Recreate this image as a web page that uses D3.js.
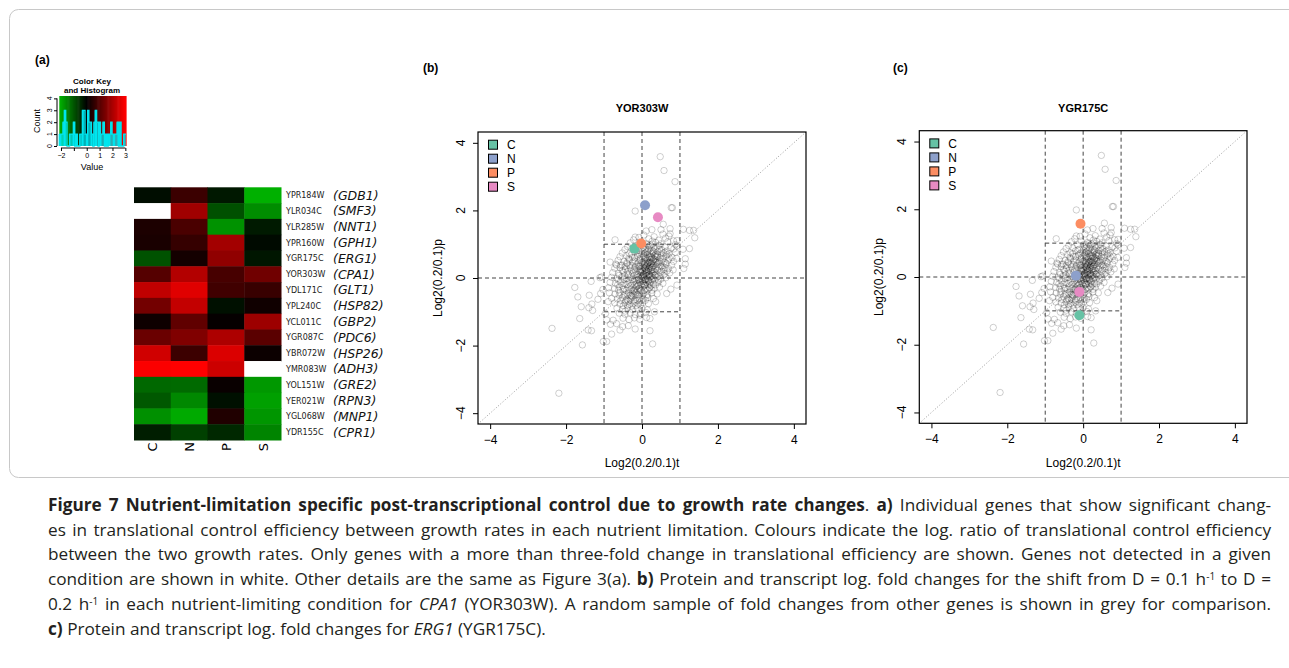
<!DOCTYPE html>
<html lang="en">
  <head>
    <meta charset="utf-8">
    <title>figure 7</title>
    <script src="https://cdn.jsdelivr.net/npm/d3@7"></script>
    <style type="text/css">
      body { margin: 0; background: #fff; }
      .rfont { font-family: "Liberation Sans", Arial, sans-serif; }
      .tick line { stroke: #000; }
      .tick text { font-family: "Liberation Sans", Arial, sans-serif; font-size: 12px; fill: #000; }
      .caption { font-family: "Open Sans", sans-serif; font-size: 17.2px; fill: #231f20; }
    </style>
  </head>
  <body>
    <svg id="fig" width="1289" height="668"></svg>
    <script type="text/javascript">
      // ---- panel (a) heatmap data ----
      var conditions = ["C", "N", "P", "S"];
      var condColors = ["#66C2A5", "#8DA0CB", "#FC8D62", "#E78AC3"];
      var geneIds = ["YPR184W", "YLR034C", "YLR285W", "YPR160W", "YGR175C", "YOR303W", "YDL171C", "YPL240C",
                     "YCL011C", "YGR087C", "YBR072W", "YMR083W", "YOL151W", "YER021W", "YGL068W", "YDR155C"];
      var geneNames = ["(GDB1)", "(SMF3)", "(NNT1)", "(GPH1)", "(ERG1)", "(CPA1)", "(GLT1)", "(HSP82)",
                       "(GBP2)", "(PDC6)", "(HSP26)", "(ADH3)", "(GRE2)", "(RPN3)", "(MNP1)", "(CPR1)"];
      // log ratio per condition C, N, P, S (null = not detected)
      var ratios = [
        [-0.15, 0.69, -0.28, -2.07],
        [null, 1.88, -0.94, -1.66],
        [0.33, 0.87, -1.72, -0.31],
        [0.29, 0.62, 1.92, -0.12],
        [-0.97, 0.23, 1.69, -0.26],
        [1.0, 2.1, 0.84, 1.32],
        [2.26, 2.64, 0.75, 0.66],
        [1.35, 2.3, -0.19, 0.19],
        [0.17, 1.13, 0.06, 1.85],
        [1.25, 1.5, 2.04, 1.06],
        [2.45, 0.71, 2.58, 0.14],
        [2.95, 3.0, 2.4, null],
        [-1.22, -1.25, 0.1, -1.79],
        [-1.04, -1.6, -0.19, -1.88],
        [-1.69, -2.0, 0.38, -1.76],
        [-0.35, -0.75, -0.47, -1.55]
      ];
      var keyTicks = [-2, -1, 0, 1, 2, 3];
      var countTicks = [0, 1, 2, 3, 4];

      // ---- panels (b), (c) ----
      var scatterTicks = [-4, -2, 0, 2, 4];
      // [t, p] for C, N, P, S
      var cpa1Points = [[-0.2, 0.87], [0.08, 2.15], [-0.02, 1.02], [0.42, 1.8]];
      var erg1Points = [[-0.1, -1.13], [-0.19, 0.04], [-0.07, 1.57], [-0.1, -0.44]];
      // background sample of other genes [t, p]
      var otherGenes = [
        [0.48,3.59],[0.58,3.18],[0.87,2.85],[-0.18,1.98],[0.77,2.08],[0.8,2.08],[0.56,1.59],[0.11,1.39],[0.26,1.43],
        [0.5,1.43],[0.74,1.46],[0.74,1.31],[1.09,1.44],[1.25,1.41],[1.36,1.41],[1.39,1.19],[1.25,0.87],[-0.71,1.13],
        [-0.18,1.21],[0.92,1.11],[1.08,0.85],[-0.84,0.47],[1.14,0.57],[1.14,0.41],[-0.67,0.38],[-0.56,0.38],
        [-1.77,-0.28],[-1.39,-0.51],[-1.69,-0.56],[-1.6,-0.85],[-1.64,-1.2],[-2.37,-1.49],[-1.4,-0.88],[-1.32,-0.77],
        [-1.3,-0.96],[-1.16,-0.63],[-1.09,-0.46],[-1.03,-0.34],[-0.89,-0.7],[-0.96,-1.05],[-0.93,-1.24],[-0.83,-1.37],
        [-1.42,-1.54],[-1.33,-1.56],[-1.57,-1.98],[-1.02,-1.88],[-0.93,-1.88],[-0.58,-1.54],[-0.18,-1.51],[0.28,-1.95],
        [-0.51,-1.44],[-0.67,-1.35],[-0.36,-1.41],[-0.05,-1.1],[0.21,-1.2],[0.21,-1.56],[-2.19,-3.41],[-1.34,-0.1],
        [-1.11,0.01],[-0.8,-1.66],[-0.76,-1.25],[0.36,-0.7],[0.65,-0.46],[0.76,-0.33],[0.92,-0.21],[0.12,-1.17],
        [0.33,-1.0],[-1.07,0.03],[1.1,0.28],
        [0.05,1.27],[0.32,1.22],[0.55,1.3],[0.71,1.24],[-0.08,1.2],
        [0.18,1.16],[0.44,1.12],[0.62,1.18],[0.83,1.1],[-0.22,1.13],[0.27,1.09],
        [-0.31,1.04],[-0.05,1.06],[0.12,1.02],[0.36,1.05],[0.5,1.01],[0.68,1.07],[0.88,0.99],[0.22,0.97],
        [-0.38,0.93],[-0.15,0.95],[0.03,0.91],[0.19,0.94],[0.31,0.9],[0.45,0.96],[0.6,0.92],[0.77,0.89],[0.92,0.95],[0.1,0.88],
        [-0.45,0.84],[-0.27,0.86],[-0.1,0.82],[0.07,0.85],[0.24,0.81],[0.35,0.87],[0.52,0.83],[0.66,0.8],[0.84,0.86],[0.15,0.79],[0.42,0.78],
        [-0.52,0.74],[-0.33,0.72],[-0.2,0.77],[-0.02,0.73],[0.11,0.76],[0.2,0.71],[0.29,0.75],[0.4,0.7],[0.56,0.74],[0.71,0.72],[0.88,0.76],[0.05,0.68],[0.33,0.66],
        [-0.58,0.63],[-0.41,0.66],[-0.25,0.61],[-0.12,0.65],[0.0,0.62],[0.09,0.6],[0.17,0.64],[0.26,0.59],[0.37,0.63],[0.48,0.6],[0.63,0.65],[0.79,0.61],[0.91,0.58],[0.22,0.55],
        [-0.63,0.52],[-0.47,0.49],[-0.34,0.54],[-0.18,0.5],[-0.06,0.53],[0.04,0.48],[0.13,0.51],[0.21,0.47],[0.3,0.52],[0.38,0.46],[0.46,0.5],[0.58,0.47],[0.69,0.53],[0.83,0.49],[0.16,0.43],[0.08,0.56],
        [-0.69,0.41],[-0.52,0.38],[-0.39,0.42],[-0.26,0.37],[-0.14,0.4],[-0.03,0.36],[0.06,0.41],[0.14,0.38],[0.23,0.42],[0.31,0.37],[0.41,0.4],[0.53,0.36],[0.64,0.41],[0.78,0.38],[0.1,0.33],[0.27,0.32],
        [-0.72,0.29],[-0.58,0.31],[-0.44,0.27],[-0.31,0.3],[-0.2,0.26],[-0.09,0.29],[0.0,0.25],[0.08,0.28],[0.17,0.24],[0.25,0.3],[0.35,0.26],[0.46,0.29],[0.57,0.25],[0.7,0.28],[0.82,0.24],[0.12,0.2],[-0.02,0.18],
        [-0.77,0.16],[-0.62,0.13],[-0.49,0.17],[-0.37,0.12],[-0.25,0.15],[-0.14,0.11],[-0.05,0.16],[0.04,0.12],[0.11,0.15],[0.19,0.1],[0.28,0.14],[0.37,0.11],[0.48,0.16],[0.6,0.12],[0.73,0.15],[0.15,0.07],[0.02,0.05],[0.24,0.04],
        [-0.8,0.02],[-0.66,-0.01],[-0.53,0.03],[-0.41,-0.02],[-0.3,0.01],[-0.19,-0.03],[-0.1,0.02],[-0.02,-0.01],[0.06,0.01],[0.13,-0.02],[0.2,0.03],[0.29,-0.01],[0.39,0.02],[0.5,-0.03],[0.63,0.01],[0.08,-0.06],[-0.06,-0.08],[0.18,-0.09],
        [-0.84,-0.13],[-0.7,-0.16],[-0.57,-0.12],[-0.45,-0.17],[-0.34,-0.14],[-0.23,-0.11],[-0.14,-0.16],[-0.05,-0.13],[0.03,-0.17],[0.11,-0.12],[0.19,-0.15],[0.3,-0.18],[0.42,-0.13],[0.55,-0.16],[-0.09,-0.21],[0.07,-0.23],
        [-0.88,-0.29],[-0.72,-0.31],[-0.6,-0.27],[-0.48,-0.32],[-0.37,-0.28],[-0.27,-0.33],[-0.17,-0.29],[-0.08,-0.31],[0.01,-0.27],[0.1,-0.32],[0.2,-0.28],[0.32,-0.3],[0.46,-0.27],[-0.22,-0.37],[-0.02,-0.38],
        [-0.86,-0.44],[-0.71,-0.47],[-0.58,-0.43],[-0.46,-0.48],[-0.35,-0.44],[-0.25,-0.46],[-0.15,-0.42],[-0.06,-0.47],[0.04,-0.45],[0.14,-0.49],[0.26,-0.44],[0.4,-0.47],[-0.3,-0.52],
        [-0.8,-0.6],[-0.65,-0.62],[-0.52,-0.58],[-0.4,-0.63],[-0.29,-0.59],[-0.18,-0.64],[-0.08,-0.6],[0.03,-0.62],[0.15,-0.58],[0.3,-0.61],[-0.36,-0.68],
        [-0.72,-0.74],[-0.58,-0.77],[-0.45,-0.73],[-0.33,-0.78],[-0.21,-0.74],[-0.1,-0.77],[0.02,-0.73],[0.17,-0.76],[-0.27,-0.83],
        [-0.66,-0.89],[-0.51,-0.92],[-0.38,-0.88],[-0.25,-0.93],[-0.12,-0.89],[0.0,-0.91],[0.14,-0.94],[-0.44,-0.98],
        [-0.6,-1.04],[-0.45,-1.07],[-0.31,-1.03],[-0.18,-1.08],[-0.04,-1.05],[0.1,-1.02],
        [-0.5,-1.19],[-0.34,-1.23],[-0.2,-1.18],[-0.06,-1.22],
        [0.05,0.1],[0.12,0.22],[0.2,0.35],[0.15,-0.05],[0.25,0.18],[0.08,0.3],[0.3,0.42],[0.1,-0.2],[0.0,0.05],[0.22,-0.12],
        [0.18,0.08],[0.28,0.25],[0.03,-0.1],[-0.05,0.2],[0.14,0.44],[0.35,0.55],[0.24,0.62],[0.1,0.15],[0.18,0.28],[-0.1,-0.05],
        [-0.15,-0.25],[-0.2,-0.4],[0.07,0.38],[0.33,0.08],[-0.08,0.35],[0.2,-0.3],[-0.28,-0.55],[-0.12,-0.5],[0.26,0.48],[0.4,0.65],
        [0.14,0.98],[0.28,1.0],[0.4,0.92],[0.02,0.96],
        [0.0,0.8],[0.18,0.84],[0.3,0.79],[0.47,0.85],[0.61,0.77],[-0.14,0.8],
        [-0.28,0.68],[-0.08,0.7],[0.07,0.73],[0.15,0.69],[0.25,0.72],[0.36,0.68],[0.5,0.71],[0.66,0.69],
        [-0.35,0.58],[-0.19,0.6],[-0.05,0.57],[0.05,0.63],[0.13,0.58],[0.2,0.61],[0.31,0.56],[0.42,0.62],[0.55,0.57],[0.72,0.59],
        [-0.4,0.45],[-0.24,0.47],[-0.1,0.44],[0.0,0.46],[0.09,0.43],[0.18,0.47],[0.25,0.44],[0.34,0.48],[0.43,0.44],[0.51,0.48],[0.62,0.45],
        [-0.45,0.34],[-0.33,0.36],[-0.18,0.33],[-0.06,0.35],[0.03,0.32],[0.11,0.36],[0.19,0.32],[0.28,0.36],[0.37,0.33],[0.5,0.35],[0.6,0.31],
        [-0.52,0.22],[-0.38,0.2],[-0.28,0.23],[-0.17,0.19],[-0.08,0.23],[0.02,0.2],[0.09,0.24],[0.16,0.19],[0.22,0.22],[0.31,0.19],[0.41,0.23],[0.52,0.2],[0.66,0.21],
        [-0.6,0.08],[-0.46,0.07],[-0.35,0.09],[-0.22,0.06],[-0.12,0.09],[-0.03,0.07],[0.05,0.09],[0.12,0.06],[0.2,0.1],[0.27,0.07],[0.35,0.09],[0.45,0.06],[0.56,0.08],
        [-0.62,-0.06],[-0.48,-0.04],[-0.36,-0.07],[-0.25,-0.05],[-0.15,-0.07],[-0.07,-0.03],[0.01,-0.06],[0.1,-0.04],[0.17,-0.07],[0.25,-0.04],[0.34,-0.06],[0.44,-0.08],
        [-0.64,-0.2],[-0.52,-0.22],[-0.4,-0.19],[-0.29,-0.22],[-0.19,-0.2],[-0.11,-0.23],[-0.02,-0.19],[0.06,-0.21],[0.15,-0.2],[0.24,-0.23],[0.36,-0.2],
        [-0.62,-0.36],[-0.5,-0.34],[-0.41,-0.37],[-0.31,-0.35],[-0.2,-0.33],[-0.12,-0.36],[-0.04,-0.34],[0.06,-0.37],[0.15,-0.35],[0.26,-0.36],
        [-0.6,-0.51],[-0.48,-0.53],[-0.37,-0.5],[-0.26,-0.53],[-0.17,-0.5],[-0.08,-0.54],[0.02,-0.51],[0.12,-0.53],
        [-0.55,-0.66],[-0.43,-0.68],[-0.31,-0.65],[-0.21,-0.69],[-0.12,-0.66],[-0.02,-0.68],[0.09,-0.66],
        [-0.49,-0.82],[-0.38,-0.8],[-0.16,-0.82],[-0.04,-0.8]
      ];

      // ---- caption lines: [text, style] segments ----
      var captionLines = [
        [["Figure 7 Nutrient-limitation specific post-transcriptional control due to growth rate changes", "b"], [". ", ""], ["a)", "b"], [" Individual genes that show significant chang-", ""]],
        [["es in translational control efficiency between growth rates in each nutrient limitation. Colours indicate the log. ratio of translational control efficiency", ""]],
        [["between the two growth rates. Only genes with a more than three-fold change in translational efficiency are shown. Genes not detected in a given", ""]],
        [["condition are shown in white. Other details are the same as Figure 3(a). ", ""], ["b)", "b"], [" Protein and transcript log. fold changes for the shift from D = 0.1 h", ""], ["-1", "sup"], [" to D =", ""]],
        [["0.2 h", ""], ["-1", "sup"], [" in each nutrient-limiting condition for ", ""], ["CPA1", "i"], [" (YOR303W). A random sample of fold changes from other genes is shown in grey for comparison.", ""]],
        [["c)", "b"], [" Protein and transcript log. fold changes for ", ""], ["ERG1", "i"], [" (YGR175C).", ""]]
      ];

      var svg = d3.select("#fig");
      svg.append("rect").attr("width", 1289).attr("height", 668).attr("fill", "#fff");

      // outer frame of the figure
      svg.append("rect")
        .attr("x", 9.5).attr("y", 9.5)
        .attr("width", 1290).attr("height", 468)
        .attr("rx", 9)
        .attr("fill", "none")
        .attr("stroke", "#c8c8c8");

      var color = d3.scaleLinear().domain([-3, 0, 3]).range(["#00ff00", "#000000", "#ff0000"]).clamp(true);

      // ================= panel (a) =================
      svg.append("text").attr("class", "rfont").attr("x", 35).attr("y", 64)
        .style("font-size", "12px").style("font-weight", "bold").text("(a)");

      var hx = d3.scaleBand().domain(conditions).range([134, 281]);
      var hy = d3.scaleBand().domain(geneIds).range([187.3, 440]);
      var hm = svg.append("g");

      ratios.forEach(function(row, i) {
        hm.selectAll(null)
          .data(row)
          .enter().append("rect")
            .attr("x", function(d, j) { return hx(conditions[j]); })
            .attr("y", hy(geneIds[i]))
            .attr("width", hx.bandwidth() + 0.5)
            .attr("height", hy.bandwidth() + 0.5)
            .attr("fill", function(d) { return d === null ? "#fff" : color(d); });
      });

      hm.selectAll(".gid")
        .data(geneIds)
        .enter().append("text")
          .attr("x", 286)
          .attr("y", function(d) { return hy(d) + hy.bandwidth() / 2 + 3; })
          .style("font-family", "'DejaVu Sans', sans-serif")
          .style("font-size", "8px")
          .style("fill", "#222")
          .text(function(d) { return d; });

      hm.selectAll(".gname")
        .data(geneNames)
        .enter().append("text")
          .attr("x", 333)
          .attr("y", function(d, i) { return hy(geneIds[i]) + hy.bandwidth() / 2 + 4.5; })
          .style("font-family", "'DejaVu Sans', sans-serif")
          .style("font-style", "italic")
          .style("font-size", "12.5px")
          .style("fill", "#111")
          .text(function(d) { return d; });

      hm.selectAll(".cond")
        .data(conditions)
        .enter().append("text")
          .attr("transform", function(d) {
            return "translate(" + (hx(d) + hx.bandwidth() / 2 + 5) + ",447) rotate(-90)"; })
          .attr("text-anchor", "middle")
          .style("font-family", "'DejaVu Sans', sans-serif")
          .style("font-size", "13px")
          .text(function(d) { return d; });

      // colour key + histogram
      var kx = d3.scaleLinear().domain([-2.13, 3.05]).range([59.3, 126]);
      var ky = d3.scaleLinear().domain([0, 4.2]).range([146, 96]);
      var key = svg.append("g");
      var allValues = [];
      ratios.forEach(function(r) { r.forEach(function(v) { if (v !== null) allValues.push(v); }); });

      var steps = d3.range(0, 60);
      key.selectAll(".grad")
        .data(steps)
        .enter().append("rect")
          .attr("x", function(d) { return kx.range()[0] + d * (kx.range()[1] - kx.range()[0]) / 60; })
          .attr("y", 96)
          .attr("width", (kx.range()[1] - kx.range()[0]) / 60 + 0.6)
          .attr("height", 50)
          .attr("fill", function(d) { return color(kx.invert(kx.range()[0] + (d + 0.5) * (kx.range()[1] - kx.range()[0]) / 60)); });

      var bins = d3.bin().domain(kx.domain()).thresholds(d3.range(-2.13, 3.05, 0.1))(allValues);
      var stepPath = "";
      bins.forEach(function(b, i) {
        stepPath += (i === 0 ? "M" : "L") + kx(b.x0) + "," + ky(b.length) + "L" + kx(b.x1) + "," + ky(b.length);
      });
      key.append("path").attr("d", stepPath).attr("fill", "none").attr("stroke", "#00e5ee").attr("stroke-width", 1.3);
      key.selectAll(".vb")
        .data(bins.filter(function(b) { return b.length > 0; }))
        .enter().append("line")
          .attr("x1", function(b) { return kx(b.x0); }).attr("x2", function(b) { return kx(b.x0); })
          .attr("y1", ky(0)).attr("y2", function(b) { return ky(b.length); })
          .attr("stroke", "#00e5ee").attr("stroke-width", 1.3);

      var kxAxis = key.append("g").attr("transform", "translate(0,148)")
        .call(d3.axisBottom(kx).tickValues(keyTicks).tickSize(3).tickPadding(2)
          .tickFormat(function(d) { return d === -1 ? "" : d3.format("")(d); }));
      kxAxis.select(".domain").attr("d", "M" + kx(-2) + ",0H" + kx(3));
      kxAxis.selectAll("text").style("font-size", "7px");

      var kyAxis = key.append("g").attr("transform", "translate(57,0)")
        .call(d3.axisLeft(ky).tickValues(countTicks).tickSize(3).tickFormat(""));
      kyAxis.select(".domain").attr("d", "M0," + ky(0) + "V" + ky(4));
      key.selectAll(".cl")
        .data(countTicks)
        .enter().append("text")
          .attr("class", "rfont")
          .attr("transform", function(d) { return "translate(52," + ky(d) + ") rotate(-90)"; })
          .attr("text-anchor", "middle")
          .style("font-size", "7px")
          .text(function(d) { return d; });

      key.append("text").attr("class", "rfont")
        .attr("transform", "translate(40,121) rotate(-90)")
        .attr("text-anchor", "middle").style("font-size", "9px").text("Count");
      key.append("text").attr("class", "rfont")
        .attr("x", 92).attr("y", 170)
        .attr("text-anchor", "middle").style("font-size", "9px").text("Value");
      key.append("text").attr("class", "rfont")
        .attr("x", 92).attr("y", 84)
        .attr("text-anchor", "middle").style("font-size", "8px").style("font-weight", "bold").text("Color Key");
      key.append("text").attr("class", "rfont")
        .attr("x", 92).attr("y", 92.5)
        .attr("text-anchor", "middle").style("font-size", "8px").style("font-weight", "bold").text("and Histogram");

      // ================= panels (b) and (c) =================
      function drawScatter(opt) {
        var g = svg.append("g");
        var x = d3.scaleLinear().domain([-4.32, 4.32]).range([opt.left, opt.right]);
        var y = d3.scaleLinear().domain([-4.32, 4.32]).range([opt.bottom, opt.top]);
        var cid = "clip" + opt.tag.replace(/\W/g, "");

        g.append("text").attr("class", "rfont")
          .attr("x", opt.tagX).attr("y", 72)
          .style("font-size", "12px").style("font-weight", "bold").text(opt.tag);

        g.append("text").attr("class", "rfont")
          .attr("x", x(0)).attr("y", 112)
          .attr("text-anchor", "middle")
          .style("font-size", "11px").style("font-weight", "bold").text(opt.title);

        g.append("clipPath").attr("id", cid)
          .append("rect").attr("x", opt.left).attr("y", opt.top)
          .attr("width", opt.right - opt.left).attr("height", opt.bottom - opt.top);
        var inner = g.append("g").attr("clip-path", "url(#" + cid + ")");

        inner.selectAll(".bg")
          .data(otherGenes)
          .enter().append("circle")
            .attr("cx", function(d) { return x(d[0]); })
            .attr("cy", function(d) { return y(d[1]); })
            .attr("r", 3.2)
            .attr("fill", "none")
            .attr("stroke", "#000")
            .attr("stroke-opacity", 0.24)
            .attr("stroke-width", 0.8);

        // y = x reference
        inner.append("line")
          .attr("x1", x(-4.32)).attr("y1", y(-4.32)).attr("x2", x(4.32)).attr("y2", y(4.32))
          .attr("stroke", "#999").attr("stroke-dasharray", "1,2");

        var dash = "4,3";
        inner.selectAll(".vl")
          .data([-1, 0, 1])
          .enter().append("line")
            .attr("x1", function(d) { return x(d); }).attr("x2", function(d) { return x(d); })
            .attr("y1", opt.top).attr("y2", opt.bottom)
            .attr("stroke", "#444").attr("stroke-dasharray", dash);
        inner.append("line")
          .attr("x1", opt.left).attr("x2", opt.right).attr("y1", y(0)).attr("y2", y(0))
          .attr("stroke", "#444").attr("stroke-dasharray", dash);
        inner.selectAll(".hl")
          .data([-1, 1])
          .enter().append("line")
            .attr("x1", x(-1)).attr("x2", x(1))
            .attr("y1", function(d) { return y(d); }).attr("y2", function(d) { return y(d); })
            .attr("stroke", "#444").attr("stroke-dasharray", dash);

        inner.selectAll(".hi")
          .data(opt.points)
          .enter().append("circle")
            .attr("cx", function(d) { return x(d[0]); })
            .attr("cy", function(d) { return y(d[1]); })
            .attr("r", 5)
            .attr("fill", function(d, i) { return condColors[i]; });

        g.append("rect")
          .attr("x", opt.left).attr("y", opt.top)
          .attr("width", opt.right - opt.left).attr("height", opt.bottom - opt.top)
          .attr("fill", "none").attr("stroke", "#000").attr("stroke-width", 1.2);

        var xa = g.append("g").attr("transform", "translate(0," + opt.bottom + ")")
          .call(d3.axisBottom(x).tickValues(scatterTicks).tickSize(5).tickPadding(6));
        xa.select(".domain").remove();

        var ya = g.append("g").attr("transform", "translate(" + opt.left + ",0)")
          .call(d3.axisLeft(y).tickValues(scatterTicks).tickSize(5).tickFormat(""));
        ya.select(".domain").remove();
        g.selectAll(".yl")
          .data(scatterTicks)
          .enter().append("text")
            .attr("class", "rfont")
            .attr("transform", function(d) { return "translate(" + (opt.left - 13) + "," + y(d) + ") rotate(-90)"; })
            .attr("text-anchor", "middle")
            .style("font-size", "12px")
            .text(function(d) { return d3.format("")(d); });

        g.append("text").attr("class", "rfont")
          .attr("x", x(0)).attr("y", 467)
          .attr("text-anchor", "middle").style("font-size", "12px").text("Log2(0.2/0.1)t");
        g.append("text").attr("class", "rfont")
          .attr("transform", "translate(" + (opt.left - 36) + "," + y(0) + ") rotate(-90)")
          .attr("text-anchor", "middle").style("font-size", "12px").text("Log2(0.2/0.1)p");

        // legend
        var leg = g.selectAll(".leg")
          .data(conditions)
          .enter().append("g")
            .attr("transform", function(d, i) {
              return "translate(" + (opt.left + 15) + "," + (opt.top + 12.7 + i * 14) + ")"; });
        leg.append("rect")
          .attr("x", -4.5).attr("y", -4.5).attr("width", 9).attr("height", 9)
          .attr("fill", function(d, i) { return condColors[i]; })
          .attr("stroke", "#000").attr("stroke-width", 1);
        leg.append("text").attr("class", "rfont")
          .attr("x", 14).attr("y", 4.5)
          .style("font-size", "12px")
          .text(function(d) { return d; });
      }

      drawScatter({ tag: "(b)", tagX: 423, title: "YOR303W", left: 478, right: 806, top: 132, bottom: 424, points: cpa1Points });
      drawScatter({ tag: "(c)", tagX: 893, title: "YGR175C", left: 919.3, right: 1247, top: 130.7, bottom: 423.3, points: erg1Points });

      // ================= caption =================
      var capLeft = 48, capRight = 1271, lineGap = 24.7, firstBase = 511;
      captionLines.forEach(function(segs, i) {
        var t = svg.append("text")
          .attr("class", "caption")
          .attr("x", capLeft)
          .attr("y", firstBase + i * lineGap)
          .attr("xml:space", "preserve");
        segs.forEach(function(s, k) {
          var ts = t.append("tspan").text(s[0]);
          if (s[1] === "b") ts.style("font-weight", "bold");
          if (s[1] === "i") ts.style("font-style", "italic");
          if (s[1] === "sup") ts.attr("dy", -5).style("font-size", "10px");
          if (k > 0 && segs[k - 1][1] === "sup") ts.attr("dy", 5);
        });
        if (i < captionLines.length - 1) {
          var full = segs.map(function(s) { return s[0]; }).join("");
          var spaces = (full.match(/ /g) || []).length;
          var w = t.node().getComputedTextLength();
          t.style("word-spacing", ((capRight - capLeft - w) / spaces) + "px");
        }
      });
    </script>
  </body>
</html>
